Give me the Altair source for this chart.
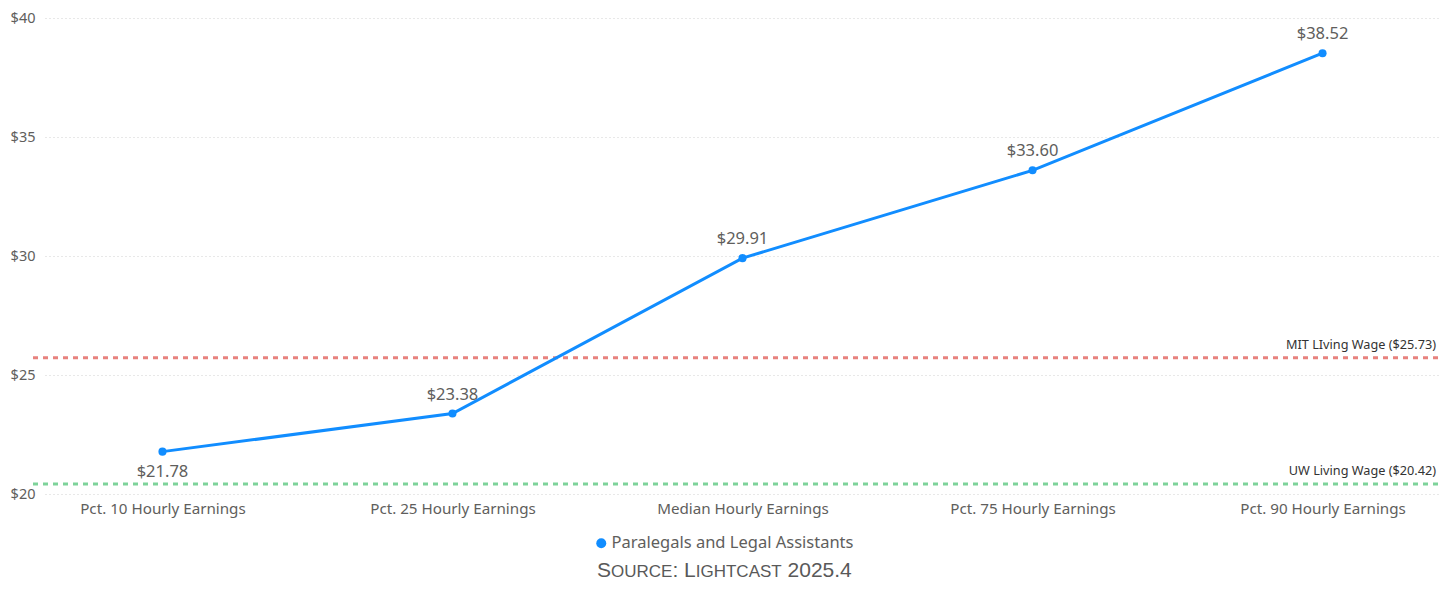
import altair as alt
import pandas as pd

categories = ["Pct. 10 Hourly Earnings", "Pct. 25 Hourly Earnings", "Median Hourly Earnings",
              "Pct. 75 Hourly Earnings", "Pct. 90 Hourly Earnings"]
values = [21.78, 23.38, 29.91, 33.60, 38.52]
series = "Paralegals and Legal Assistants"
ref_names = ["MIT LIving Wage ($25.73)", "UW Living Wage ($20.42)"]
ref_values = [25.73, 20.42]
ref_colors = ["#E8827E", "#7ED39A"]
# small-caps source note: (text, is_big)
source_parts = [("S", True), ("OURCE", False), (": ", True), ("L", True),
                ("IGHTCAST", False), (" 2025.4", True)]

df = pd.DataFrame({"cat": categories, "val": values, "series": [series] * len(values)})
df["label"] = df["val"].map(lambda v: f"${v:.2f}")
refs = pd.DataFrame({"name": ref_names, "val": ref_values, "color": ref_colors})

W, H = 1395, 476
FONT = "Segoe UI, Noto Sans, sans-serif"
GRAY = "#605E5C"

x = alt.X("cat:N", sort=categories, title=None,
          scale=alt.Scale(type="point", padding=0.405),
          axis=alt.Axis(labelAngle=0, domain=False, ticks=False, labelPadding=7,
                        labelFontSize=15.2, labelColor=GRAY, labelFont=FONT, grid=False))
y = alt.Y("val:Q", title=None,
          scale=alt.Scale(domain=[20, 40], nice=False, zero=False),
          axis=alt.Axis(values=[20, 25, 30, 35, 40], format="$,.0f", domain=False, ticks=False,
                        labelPadding=10, labelFontSize=14.5, labelColor=GRAY, labelFont=FONT,
                        grid=True, gridDash=[1, 3], gridColor="#D0D0D0", gridWidth=1))

base = alt.Chart(df)

cscale = alt.Scale(range=["#118DFF"])
color_leg = alt.Color("series:N", scale=cscale, title=None,
                      legend=alt.Legend(orient="none", legendX=548, legendY=H + 41,
                                        symbolType="circle", symbolSize=100, labelFontSize=16.5,
                                        labelColor=GRAY, labelFont=FONT, labelFontWeight="normal",
                                        labelLimit=500, symbolStrokeWidth=0,
                                        labelOffset=2, padding=0))
color_noleg = alt.Color("series:N", scale=cscale, legend=None)

line = base.mark_line(strokeWidth=3).encode(x=x, y=y, color=color_noleg)
pts = base.mark_circle(size=65, opacity=1).encode(x=x, y=y, color=color_leg)

lbl_above = base.transform_filter("datum.val >= 22").mark_text(
    dy=-19, fontSize=16.5, color=GRAY, font=FONT).encode(x=x, y=y, text="label:N")
lbl_below = base.transform_filter("datum.val < 22").mark_text(
    dy=20, fontSize=16.5, color=GRAY, font=FONT).encode(x=x, y=y, text="label:N")

rchart = alt.Chart(refs)
rules = rchart.mark_rule(strokeWidth=3, strokeDash=[5, 5]).encode(
    y=alt.Y("val:Q"), x=alt.value(-12), x2=alt.value(W),
    color=alt.Color("color:N", scale=None, legend=None))
rlabels = rchart.mark_text(align="right", baseline="bottom", dy=-6, fontSize=12.7,
                           color="#333333", font=FONT).encode(
    y=alt.Y("val:Q"), x=alt.value(W - 4), text="name:N")

# Liberation Sans (Arial metrics) advance widths per 1000 em
adv = {"S": 667, "O": 778, "U": 722, "R": 722, "C": 722, "E": 667, ":": 278, " ": 278,
       "L": 556, "I": 278, "G": 778, "H": 722, "T": 611, "A": 667, ".": 278}
BIG, SMALL = 21, 17
xpos = 552.0
src_layers = []
for txt, big in source_parts:
    fs = BIG if big else SMALL
    lead = len(txt) - len(txt.lstrip(" "))
    start = xpos + lead * adv[" "] / 1000 * fs
    src_layers.append(
        alt.Chart(pd.DataFrame({"t": [txt.strip()]})).mark_text(
            fontSize=fs, color="#595959", font="Liberation Sans, Arial", align="left",
            baseline="alphabetic").encode(x=alt.value(start), y=alt.value(H + 83), text="t:N"))
    xpos += sum(adv.get(c, 556) for c in txt) / 1000 * fs

chart = alt.layer(rules, rlabels, line, pts, lbl_above, lbl_below, *src_layers).properties(
    width=W, height=H,
    autosize=alt.AutoSizeParams(type="none"),
    padding={"left": 37, "top": 10, "right": 4, "bottom": 88},
).resolve_scale(color="independent").configure(background="white").configure_view(strokeWidth=0)

chart.save("out.html", embed_options={"renderer": "svg", "actions": False})
